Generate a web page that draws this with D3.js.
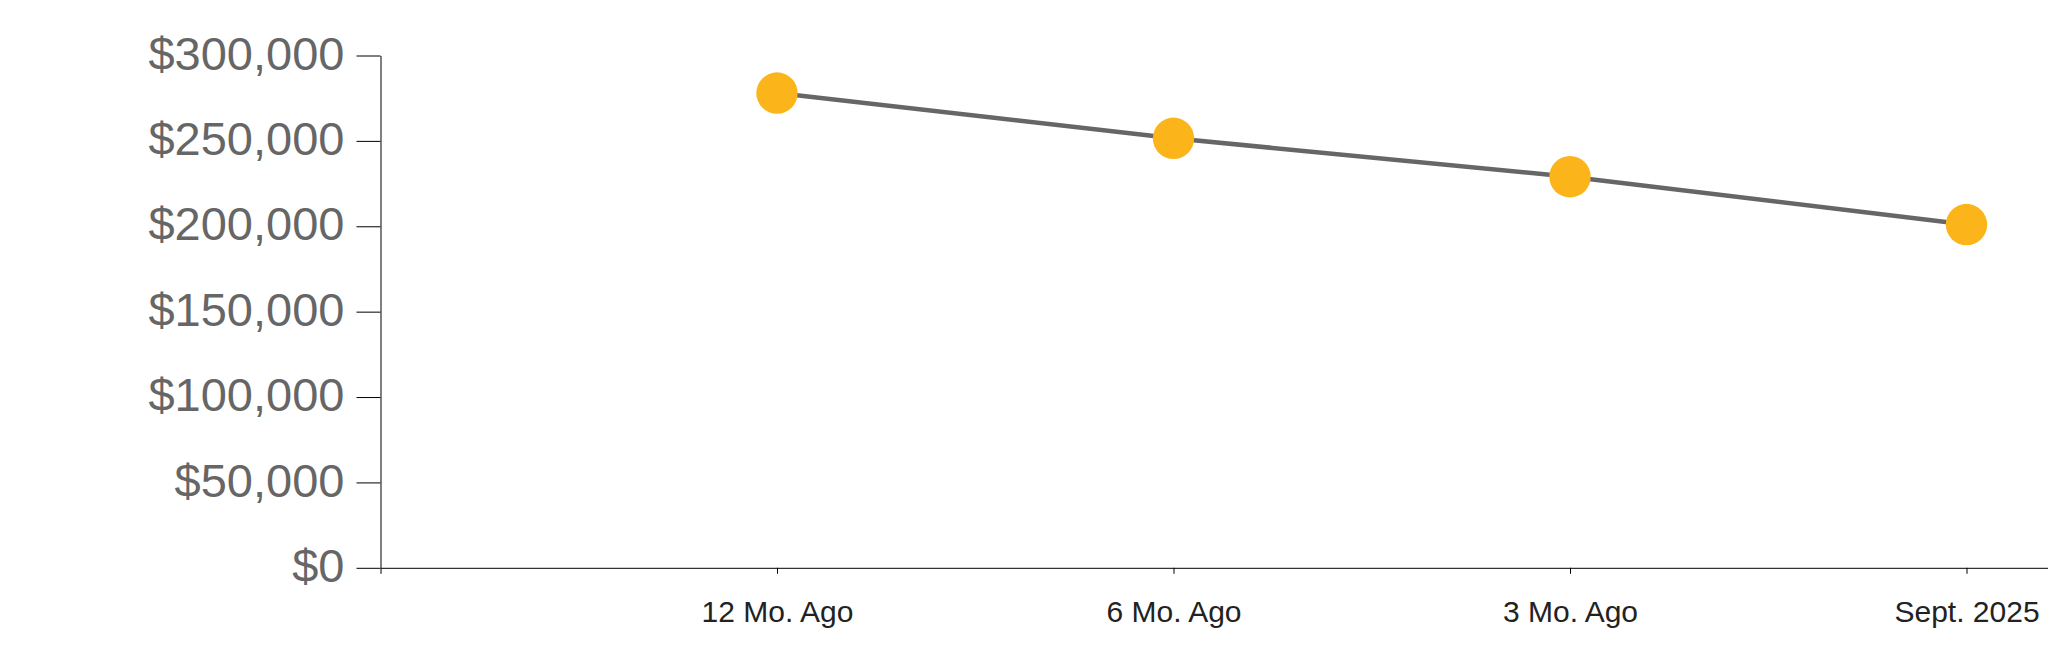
<!DOCTYPE html>
<html>
<head>
<meta charset="utf-8">
<script src="https://cdn.jsdelivr.net/npm/d3@7"></script>
<style>
  html, body { margin: 0; padding: 0; background: #fff; }
  svg { display: block; }
  .y .tick text { fill: #666; font-size: 47px; }
  .x .tick text { fill: #222; font-size: 30px; }
  .domain, .tick line { stroke: #000; }
</style>
</head>
<body>
<script>
const categories = ["12 Mo. Ago", "6 Mo. Ago", "3 Mo. Ago", "Sept. 2025"];
const values = [278000, 251500, 229000, 201000];
const yTicks = [0, 50000, 100000, 150000, 200000, 250000, 300000];

const W = 2048, H = 663;
const margin = { top: 55.5, left: 380.5, bottom: 95 };
const svg = d3.select("body").append("svg").attr("width", W).attr("height", H)
  .style("font-family", "Arial, 'Liberation Sans', sans-serif");

const x = d3.scalePoint().domain(categories).range([margin.left, 2363]).padding(1);
const y = d3.scaleLinear().domain([0, 300000]).range([H - margin.bottom - 0.2, margin.top]);

svg.append("g").attr("class", "x")
  .attr("transform", `translate(0,${y(0)})`)
  .call(d3.axisBottom(x).tickSize(6).tickPadding(27))
  .call(g => g.selectAll("text").style("font-family", "Arial, 'Liberation Sans', sans-serif"));

svg.append("g").attr("class", "y")
  .attr("transform", `translate(${margin.left},0)`)
  .call(d3.axisLeft(y).tickValues(yTicks).tickSize(24).tickSizeOuter(0).tickPadding(12)
    .tickFormat(d => "$" + d3.format(",")(d)))
  .call(g => g.selectAll("text").attr("dy", "0.29em")
    .style("font-family", "Arial, 'Liberation Sans', sans-serif"));

const data = categories.map((c, i) => ({ c, v: values[i] }));

svg.append("path").datum(data)
  .attr("fill", "none").attr("stroke", "#666").attr("stroke-width", 4.5)
  .attr("d", d3.line().x(d => x(d.c)).y(d => y(d.v)));

svg.selectAll("circle.pt").data(data).join("circle")
  .attr("class", "pt")
  .attr("cx", d => x(d.c)).attr("cy", d => y(d.v)).attr("r", 20.7)
  .attr("fill", "#fbb51b");
</script>
</body>
</html>
